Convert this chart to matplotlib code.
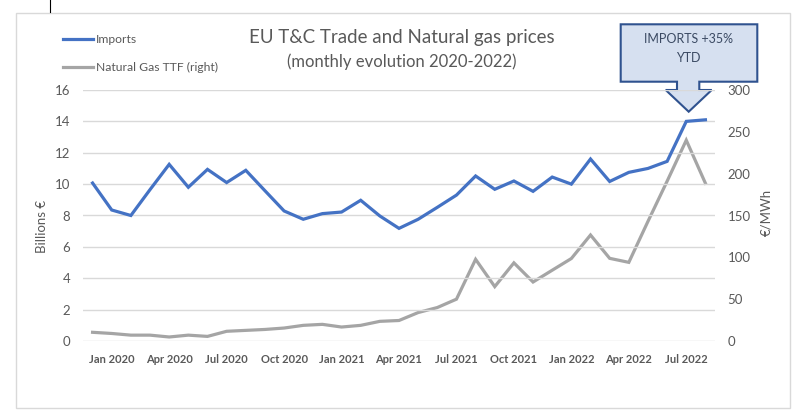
import matplotlib
matplotlib.use("Agg")
from matplotlib import pyplot as plt
from matplotlib.patches import Polygon, Rectangle
from matplotlib.lines import Line2D

plt.rcParams['font.family'] = ['Lato', 'DejaVu Sans']

# monthly data, Dec 2019 .. Aug 2022
months = ['Dec 2019', 'Jan 2020', 'Feb 2020', 'Mar 2020', 'Apr 2020', 'May 2020', 'Jun 2020',
          'Jul 2020', 'Aug 2020', 'Sep 2020', 'Oct 2020', 'Nov 2020', 'Dec 2020',
          'Jan 2021', 'Feb 2021', 'Mar 2021', 'Apr 2021', 'May 2021', 'Jun 2021',
          'Jul 2021', 'Aug 2021', 'Sep 2021', 'Oct 2021', 'Nov 2021', 'Dec 2021',
          'Jan 2022', 'Feb 2022', 'Mar 2022', 'Apr 2022', 'May 2022', 'Jun 2022',
          'Jul 2022', 'Aug 2022']
imports = [10.07, 8.35, 8.0, 9.65, 11.26, 9.8, 10.94, 10.1, 10.88, 9.58, 8.29, 7.76, 8.12,
           8.22, 8.97, 7.97, 7.18, 7.76, 8.52, 9.3, 10.52, 9.67, 10.2, 9.54, 10.45,
           10.0, 11.6, 10.17, 10.75, 11.0, 11.45, 14.0, 14.1]
gas_ttf = [10.4, 9.0, 7.0, 7.0, 4.8, 7.0, 5.5, 11.6, 12.7, 13.8, 15.5, 18.7, 19.9,
           16.7, 18.7, 23.5, 24.5, 34.0, 40.0, 50.0, 97.6, 65.0, 93.4, 70.5, 84.6,
           98.6, 126.7, 98.8, 94.0, 143.0, 191.0, 240.0, 188.5]
tick_labels = ['Jan 2020', 'Apr 2020', 'Jul 2020', 'Oct 2020', 'Jan 2021', 'Apr 2021',
               'Jul 2021', 'Oct 2021', 'Jan 2022', 'Apr 2022', 'Jul 2022']

W, H = 804, 419
BLUE = '#4472C4'
GREY = '#A5A5A5'
TXT = '#595959'


def fx(px):
    return px / W


def fy(py):
    return 1 - py / H


fig = plt.figure(figsize=(W / 100, H / 100), dpi=100)
ax = fig.add_axes([fx(83), fy(341), 632 / W, 251 / H])
ax2 = ax.twinx()

x = list(range(len(months)))
ax.plot(x, imports, color=BLUE, lw=2.3, solid_joinstyle='miter', zorder=3)
ax2.plot(x, gas_ttf, color=GREY, lw=2.3, solid_joinstyle='miter')
ax.set_zorder(ax2.get_zorder() + 1)
ax.patch.set_visible(False)

ax.set_xlim(-0.5, len(months) - 0.5)
ax.set_ylim(0, 16)
ax2.set_ylim(0, 300)
ax.set_yticks(range(0, 17, 2))
ax2.set_yticks(range(0, 301, 50))
ax.set_xticks([months.index(t) for t in tick_labels])
ax.set_xticklabels(tick_labels, fontsize=8, fontweight='bold', color=TXT)

ax.grid(axis='y', color='#D9D9D9', lw=1)
ax.set_axisbelow(True)
for a in (ax, ax2):
    for s in a.spines.values():
        s.set_visible(False)
    a.tick_params(length=0, labelsize=9.5, labelcolor=TXT)
ax.tick_params(axis='x', pad=9, labelsize=8)
ax.tick_params(axis='y', pad=9)
ax2.tick_params(axis='y', pad=9)

ax.set_ylabel('Billions €', fontsize=9.5, color=TXT)
ax.yaxis.set_label_coords(-0.055, 0.458)
ax2.set_ylabel('€/MWh', fontsize=9.5, color=TXT)
ax2.yaxis.set_label_coords(1.072, 0.512)

# titles
fig.text(fx(402), fy(38), 'EU T&C Trade and Natural gas prices', ha='center', va='center',
         fontsize=13.5, color=TXT)
fig.text(fx(402), fy(62), '(monthly evolution 2020-2022)', ha='center', va='center',
         fontsize=12, color=TXT)

# legend drawn by hand
for yy, col, lab in [(39.3, BLUE, 'Imports'), (67.3, GREY, 'Natural Gas TTF (right)')]:
    fig.add_artist(Line2D([fx(63.3), fx(93.3)], [fy(yy), fy(yy)], color=col, lw=2.3))
    fig.text(fx(96), fy(yy), lab, ha='left', va='center', fontsize=8.7, color=TXT)

# callout box with arrow
pts = [(620.7, 24.3), (757.3, 24.3), (757.3, 81.7), (699.3, 81.7), (699.3, 90),
       (711.7, 90), (688.7, 111.7), (665.7, 90), (677, 90), (677, 81.7), (620.7, 81.7)]
fig.add_artist(Polygon([(fx(a), fy(b)) for a, b in pts], closed=True,
                       facecolor='#D6E0F0', edgecolor='#2F528F', lw=1.5,
                       transform=fig.transFigure))
fig.text(fx(688.7), fy(39), 'IMPORTS +35%', ha='center', va='center', fontsize=9, color='#3B4A63')
fig.text(fx(688.7), fy(58), 'YTD', ha='center', va='center', fontsize=9, color='#3B4A63')

# outer frame and cursor mark
fig.add_artist(Rectangle((fx(16), fy(408)), 774 / W, 395 / H, fill=False,
                         edgecolor='#D9D9D9', lw=1, transform=fig.transFigure))
fig.add_artist(Line2D([fx(50), fx(50)], [fy(0), fy(12)], color='black', lw=0.8))

fig.savefig('out.png', dpi=100)
